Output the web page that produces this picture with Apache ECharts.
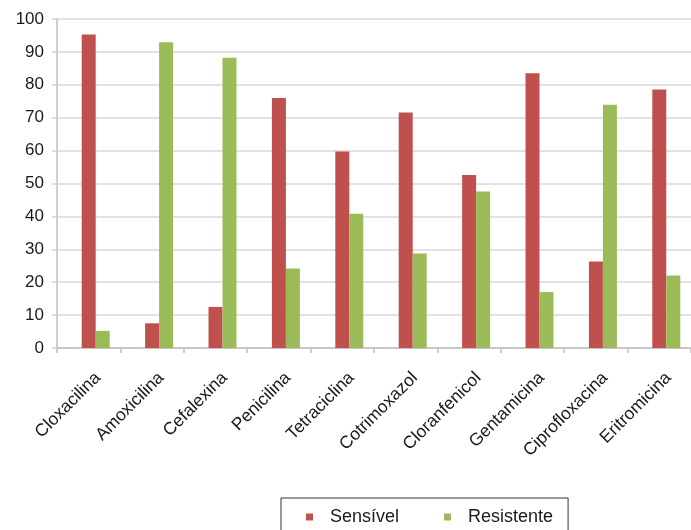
<!DOCTYPE html>
<html>
<head>
<meta charset="utf-8">
<script src="https://cdn.jsdelivr.net/npm/echarts@6/dist/echarts.min.js"></script>
<style>
html,body{margin:0;padding:0;background:#fff;}
#chart{width:691px;height:530px;}
</style>
</head>
<body>
<div id="chart"></div>
<script>
const categories = ['Cloxacilina','Amoxicilina','Cefalexina','Penicilina','Tetraciclina','Cotrimoxazol','Cloranfenicol','Gentamicina','Ciprofloxacina','Eritromicina'];
const sensivel = [95.3, 7.5, 12.5, 76, 59.7, 71.6, 52.6, 83.5, 26.3, 78.6];
const resistente = [5.2, 92.9, 88.2, 24.2, 40.8, 28.7, 47.6, 17, 73.9, 22];
const yTicks = {min: 0, max: 100, interval: 10};

const chart = echarts.init(document.getElementById('chart'));
chart.setOption({
  animation: false,
  backgroundColor: '#fff',
  textStyle: {fontFamily: '"Liberation Sans", Arial, sans-serif'},
  grid: {left: 57, top: 19, width: 644, height: 329, containLabel: false},
  legend: {
    data: ['Sensível', 'Resistente'],
    left: 281, top: 498,
    icon: 'rect', itemWidth: 7, itemHeight: 7, itemGap: 45,
    padding: [10, 15, 30, 25],
    borderColor: '#333', borderWidth: 1,
    textStyle: {fontSize: 18, color: '#1a1a1a', padding: [0, 0, 0, 12]}
  },
  xAxis: {
    type: 'category', data: categories,
    axisLine: {lineStyle: {color: '#bfbfbf', width: 1.5}},
    axisTick: {show: true, length: 5, lineStyle: {color: '#bfbfbf', width: 1.5}},
    axisLabel: {rotate: 45, fontSize: 17.5, lineHeight: 26, color: '#1a1a1a', margin: 18, interval: 0, verticalAlign: 'top'}
  },
  yAxis: {
    type: 'value', min: yTicks.min, max: yTicks.max, interval: yTicks.interval,
    axisLine: {show: true, lineStyle: {color: '#bfbfbf', width: 1.5}},
    axisTick: {show: true, length: 5, lineStyle: {color: '#d4d4d4', width: 1.5}},
    axisLabel: {fontSize: 17, color: '#1a1a1a', margin: 13},
    splitLine: {lineStyle: {color: '#d9d9d9', width: 1.5}}
  },
  series: [
    {name: '_gap', type: 'bar', barWidth: 14, barGap: '0%', data: categories.map(() => null), silent: true, itemStyle: {color: 'transparent'}},
    {name: 'Sensível', type: 'bar', barWidth: 14, barGap: '0%', data: sensivel, itemStyle: {color: '#c0504d'}},
    {name: 'Resistente', type: 'bar', barWidth: 14, barGap: '0%', data: resistente, itemStyle: {color: '#9bbb59'}}
  ]
});
</script>
</body>
</html>
